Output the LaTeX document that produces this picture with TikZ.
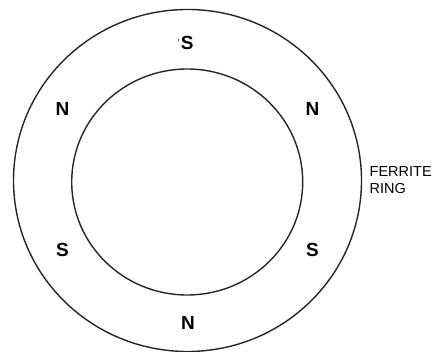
\documentclass[tikz,border=0pt]{standalone}
\usepackage{fontspec}
\setmainfont{Liberation Sans}
\begin{document}
\begin{tikzpicture}[x=1pt,y=1pt,
  ring/.style={draw=black!85,line width=1.4pt},
  pole/.style={font=\fontsize{19}{19}\selectfont\bfseries,inner sep=0pt},
  lbl/.style={font=\fontsize{14.5}{16.7}\selectfont,align=left,inner sep=0pt,anchor=west}]
\useasboundingbox (0,0) rectangle (433,352);
\draw[ring] (187.5,171.5) ellipse [x radius=174, y radius=171];
\draw[ring] (187.2,170) ellipse [x radius=115.5, y radius=113];
\node[pole] (s1) at (185.5,309) {\raisebox{0.3ex}{\fontsize{10}{10}\selectfont\mdseries'}\kern1pt S};
\node[pole] (n1) at (62.5,243.5) {N};
\node[pole] (n2) at (312.5,243.5) {N};
\node[pole] (s2) at (62.5,102) {S};
\node[pole] (s3) at (312.5,102) {S};
\node[pole] (n3) at (188,28.7) {N};
\node[lbl] (fr) at (369.5,172) {FERRITE\\RING};
\end{tikzpicture}
\end{document}
